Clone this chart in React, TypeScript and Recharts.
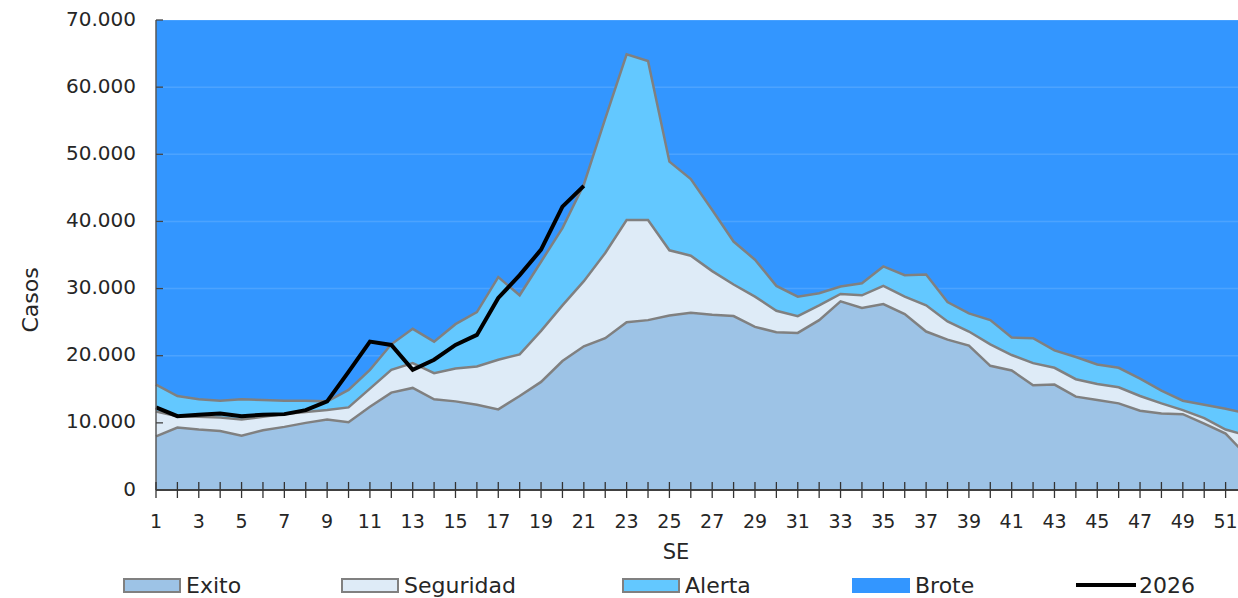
import React from 'react';
import { ComposedChart, Area, Line, XAxis, YAxis, CartesianGrid } from 'recharts';

const semanas = [
  1, 2, 3, 4, 5, 6, 7, 8, 9, 10, 11, 12, 13, 14, 15, 16, 17, 18, 19, 20, 21, 22, 23, 24, 25, 26,
  27, 28, 29, 30, 31, 32, 33, 34, 35, 36, 37, 38, 39, 40, 41, 42, 43, 44, 45, 46, 47, 48, 49, 50, 51, 52,
];

const exito = [
  8000, 9300, 9000, 8800, 8100, 8900, 9400, 10000, 10500, 10100, 12400, 14500, 15200, 13500, 13200, 12700,
  12000, 14000, 16100, 19200, 21400, 22600, 25000, 25300, 26000, 26400, 26100, 25900, 24300, 23500, 23400,
  25300, 28100, 27100, 27700, 26200, 23600, 22400, 21500, 18500, 17800, 15600, 15700, 13900, 13400, 12900,
  11800, 11400, 11300, 9900, 8400, 5100,
];

const seguridad = [
  11700, 11000, 10900, 10800, 10500, 10900, 11300, 11600, 11900, 12300, 15100, 17900, 18900, 17400, 18100,
  18400, 19400, 20200, 23700, 27500, 31100, 35300, 40200, 40200, 35700, 34900, 32600, 30600, 28800, 26700,
  25900, 27500, 29200, 29000, 30400, 28800, 27500, 25100, 23600, 21700, 20100, 18900, 18200, 16500, 15800,
  15300, 14000, 12900, 11900, 10700, 9000, 8100,
];

const alerta = [
  15700, 14000, 13500, 13300, 13500, 13400, 13300, 13300, 13200, 14900, 17900, 21700, 24000, 22100, 24700,
  26500, 31700, 29000, 34000, 39000, 45500, 55300, 64900, 63900, 48900, 46300, 41700, 37000, 34300, 30400,
  28800, 29300, 30300, 30800, 33300, 32000, 32100, 28000, 26300, 25300, 22700, 22600, 20800, 19800, 18700,
  18200, 16600, 14800, 13300, 12700, 12100, 11400,
];

const brote = [
  70000, 70000, 70000, 70000, 70000, 70000, 70000, 70000, 70000, 70000, 70000, 70000, 70000, 70000, 70000,
  70000, 70000, 70000, 70000, 70000, 70000, 70000, 70000, 70000, 70000, 70000, 70000, 70000, 70000, 70000,
  70000, 70000, 70000, 70000, 70000, 70000, 70000, 70000, 70000, 70000, 70000, 70000, 70000, 70000, 70000,
  70000, 70000, 70000, 70000, 70000, 70000, 70000,
];

const casos2026 = [
  12300, 11000, 11200, 11400, 11000, 11200, 11300, 11900, 13200, 17600, 22100, 21600, 17900, 19400, 21600,
  23100, 28600, 32000, 35800, 42200, 45300,
];

const yTicks = [0, 10000, 20000, 30000, 40000, 50000, 60000, 70000];

const data = semanas.map((se, i) => ({
  se,
  exito: exito[i],
  seguridad: seguridad[i],
  alerta: alerta[i],
  brote: brote[i],
  y2026: i < casos2026.length ? casos2026[i] : null,
}));

const FONT = '"DejaVu Sans", sans-serif';
const TEXT = '#262626';

const miles = (v: number) => String(v).replace(/\B(?=(\d{3})+(?!\d))/g, '.');

const XTick = ({ x, y, payload }: any) => (
  <g>
    <line x1={x} x2={x} y1={y - 8} y2={y + 8} stroke="#333" strokeWidth={1.3} />
    {payload.value % 2 === 1 && (
      <text x={x} y={y + 32} textAnchor="middle" dominantBaseline="middle" fontSize={19} fill={TEXT} fontFamily={FONT}>
        {payload.value}
      </text>
    )}
  </g>
);

const YTick = ({ x, y, payload }: any) => (
  <g>
    {payload.value > 0 && <line x1={x} x2={x + 7} y1={y} y2={y} stroke="#444" strokeWidth={1.3} />}
    <text x={x - 20} y={y} textAnchor="end" dominantBaseline="middle" fontSize={20} fill={TEXT} fontFamily={FONT}>
      {miles(payload.value)}
    </text>
  </g>
);

const legendItems = [
  { name: 'Exito', left: 123, fill: '#9DC3E6', border: true },
  { name: 'Seguridad', left: 341, fill: '#DEEBF7', border: true },
  { name: 'Alerta', left: 622, fill: '#63C8FF', border: true },
  { name: 'Brote', left: 852, fill: '#3396FF', border: false },
];

export default function App() {
  return (
    <div
      style={{
        position: 'absolute',
        left: 0,
        top: 0,
        width: 1238,
        height: 598,
        overflow: 'hidden',
        background: '#fff',
        fontFamily: FONT,
        color: TEXT,
      }}
    >
      <ComposedChart width={1247} height={598} data={data} margin={{ top: 20, right: 0, bottom: 48, left: 0 }}>
        <CartesianGrid vertical={false} horizontal stroke="#ffffff" strokeWidth={1.5} fill="#3396FF" fillOpacity={1} />
        <Area
          dataKey="brote"
          type="linear"
          fill="#3396FF"
          fillOpacity={0.88}
          stroke="none"
          isAnimationActive={false}
        />
        <Area
          dataKey="alerta"
          type="linear"
          fill="#63C8FF"
          fillOpacity={1}
          stroke="#808080"
          strokeWidth={2.5}
          isAnimationActive={false}
        />
        <Area
          dataKey="seguridad"
          type="linear"
          fill="#DEEBF7"
          fillOpacity={1}
          stroke="#808080"
          strokeWidth={2.5}
          isAnimationActive={false}
        />
        <Area
          dataKey="exito"
          type="linear"
          fill="#9DC3E6"
          fillOpacity={1}
          stroke="#808080"
          strokeWidth={2.5}
          isAnimationActive={false}
        />
        <Line
          dataKey="y2026"
          type="linear"
          stroke="#000"
          strokeWidth={4}
          dot={false}
          activeDot={false}
          isAnimationActive={false}
        />
        <XAxis
          dataKey="se"
          scale="point"
          padding={{ left: 0, right: 0 }}
          interval={0}
          height={60}
          tickLine={false}
          tickSize={0}
          tickMargin={0}
          axisLine={{ stroke: '#404040', strokeWidth: 2 }}
          tick={<XTick />}
        />
        <YAxis
          domain={[0, 70000]}
          ticks={yTicks}
          width={156}
          tickLine={false}
          tickSize={0}
          tickMargin={0}
          axisLine={{ stroke: '#595959', strokeWidth: 1.5 }}
          tick={<YTick />}
          allowDataOverflow
        />
      </ComposedChart>

      <div
        style={{
          position: 'absolute',
          left: 30,
          top: 300,
          transform: 'translate(-50%, -50%) rotate(-90deg)',
          fontSize: 22,
          whiteSpace: 'nowrap',
        }}
      >
        Casos
      </div>
      <div
        style={{
          position: 'absolute',
          left: 676,
          top: 552,
          transform: 'translate(-50%, -50%)',
          fontSize: 21,
        }}
      >
        SE
      </div>

      {legendItems.map((it) => (
        <div key={it.name} style={{ position: 'absolute', left: it.left, top: 573, height: 24, display: 'flex', alignItems: 'center' }}>
          <div
            style={{
              width: 58,
              height: 15,
              boxSizing: 'border-box',
              background: it.fill,
              border: it.border ? '2.5px solid #808080' : 'none',
              marginRight: 5,
            }}
          />
          <span style={{ fontSize: 22 }}>{it.name}</span>
        </div>
      ))}
      <div style={{ position: 'absolute', left: 1076, top: 573, height: 24, display: 'flex', alignItems: 'center' }}>
        <div style={{ width: 60, height: 4, background: '#000', marginRight: 3 }} />
        <span style={{ fontSize: 22 }}>2026</span>
      </div>
    </div>
  );
}
